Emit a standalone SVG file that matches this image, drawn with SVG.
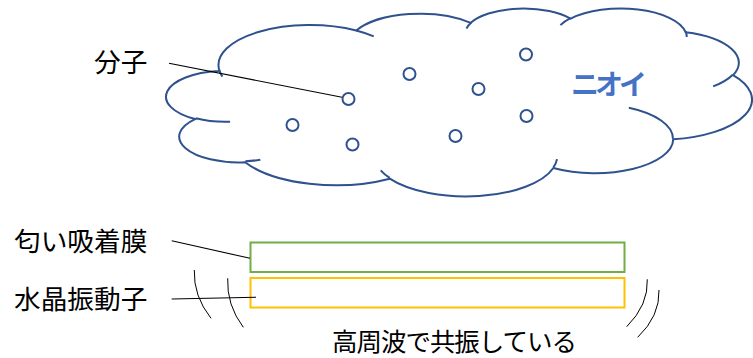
<svg xmlns="http://www.w3.org/2000/svg" width="753" height="358" viewBox="0 0 753 358">
<style>
.cloud{fill:#FFFFFF;stroke:#2F528F;stroke-width:2;}
.cloud-inner{fill:none;stroke:#2F528F;stroke-width:2;}
.mol{fill:#FFFFFF;stroke:#2F528F;stroke-width:2;}
.lbl{font-family:"Noto Sans CJK JP","Noto Sans",sans-serif;font-size:26.7px;fill:#000000;}
.smell{font-family:"Noto Sans CJK JP","Noto Sans",sans-serif;font-size:28px;font-weight:bold;fill:#4472C4;}
.lead{fill:none;stroke:#000000;stroke-width:1.1;}
.vib{fill:none;stroke:#000000;stroke-width:1;}
</style>
<g id="cloud">
<g transform="translate(166.5,7.9) scale(0.013547,0.00435)">
<path class="cloud" vector-effect="non-scaling-stroke" d="M 3900 14370 A 6753 9190 0 0 1 14005 5202 A 5333 7267 0 0 1 22456 3433 A 4365 5945 0 0 1 29833 2482 A 4857 6595 0 0 1 38319 5577 A 5333 7273 0 0 1 41819 15460 A 6775 9220 0 0 1 37405 30203 A 5785 7867 0 0 1 28556 36813 A 6752 9215 0 0 1 16481 39265 A 7720 10543 0 0 1 5806 35471 A 4360 5918 0 0 1 2113 25551 A 4345 5945 0 0 1 3863 14508 Z"/>
<path class="cloud-inner" vector-effect="non-scaling-stroke" d="M 4693 26177 A 4345 5945 0 0 1 2159 25380 M 6928 34899 A 4360 5918 0 0 1 5820 35280 M 16478 39090 A 6752 9215 0 0 1 15810 37350 M 28827 34751 A 6752 9215 0 0 1 28560 36660 M 34129 22954 A 5785 7867 0 0 1 37381 30090 M 41798 15354 A 5333 7273 0 0 1 40351 18029 M 38324 5426 A 4857 6595 0 0 1 38400 6689 M 29078 3952 A 4857 6595 0 0 1 29819 2341 M 22141 4720 A 4365 5945 0 0 1 22500 3330 M 14000 5192 A 6753 9190 0 0 1 15300 6541 M 4127 15789 A 6753 9190 0 0 1 3900 14370"/>
</g>
<text class="smell" x="571" y="95" letter-spacing="-4">ニオイ</text>
</g>
<g id="molecules">
<circle class="mol" cx="348.5" cy="99" r="6"/>
<circle class="mol" cx="409.5" cy="74" r="6"/>
<circle class="mol" cx="292.5" cy="125" r="6"/>
<circle class="mol" cx="352.5" cy="144.5" r="6"/>
<circle class="mol" cx="455.5" cy="136" r="6"/>
<circle class="mol" cx="526" cy="54.5" r="6"/>
<circle class="mol" cx="478.5" cy="89" r="6"/>
<circle class="mol" cx="526.5" cy="116" r="6"/>
</g>
<g id="label-molecule"><text class="lbl" x="94" y="71.5">分子</text></g>
<g id="label-film"><text class="lbl" x="14" y="251">匂い吸着膜</text></g>
<g id="label-crystal"><text class="lbl" x="14" y="308.8">水晶振動子</text></g>
<g id="label-resonance"><text class="lbl" x="332" y="351" style="font-size:25.5px" textLength="245" lengthAdjust="spacing">高周波で共振している</text></g>
<g id="film"><rect x="250.5" y="242.5" width="374" height="29.5" fill="#FFFFFF" stroke="#70AD47" stroke-width="2"/></g>
<g id="crystal"><rect x="250.5" y="278" width="374" height="29.5" fill="#FFFFFF" stroke="#FFC000" stroke-width="2"/></g>
<g id="connectors">
<line class="lead" x1="169" y1="63.3" x2="342" y2="97.3"/>
<line class="lead" x1="171.7" y1="240.7" x2="250" y2="258.3"/>
<line class="lead" x1="171.7" y1="299" x2="256" y2="297.3"/>
<path class="vib" d="M 194.3 270 Q 193.3 296 211 318.3"/>
<path class="vib" d="M 227.7 278.3 Q 226.5 305 243.3 327.3"/>
<path class="vib" d="M 647.3 279.3 Q 648.5 305 626.7 326.7"/>
<path class="vib" d="M 659 290 Q 660 316 637.7 337.3"/>
</g>
</svg>
